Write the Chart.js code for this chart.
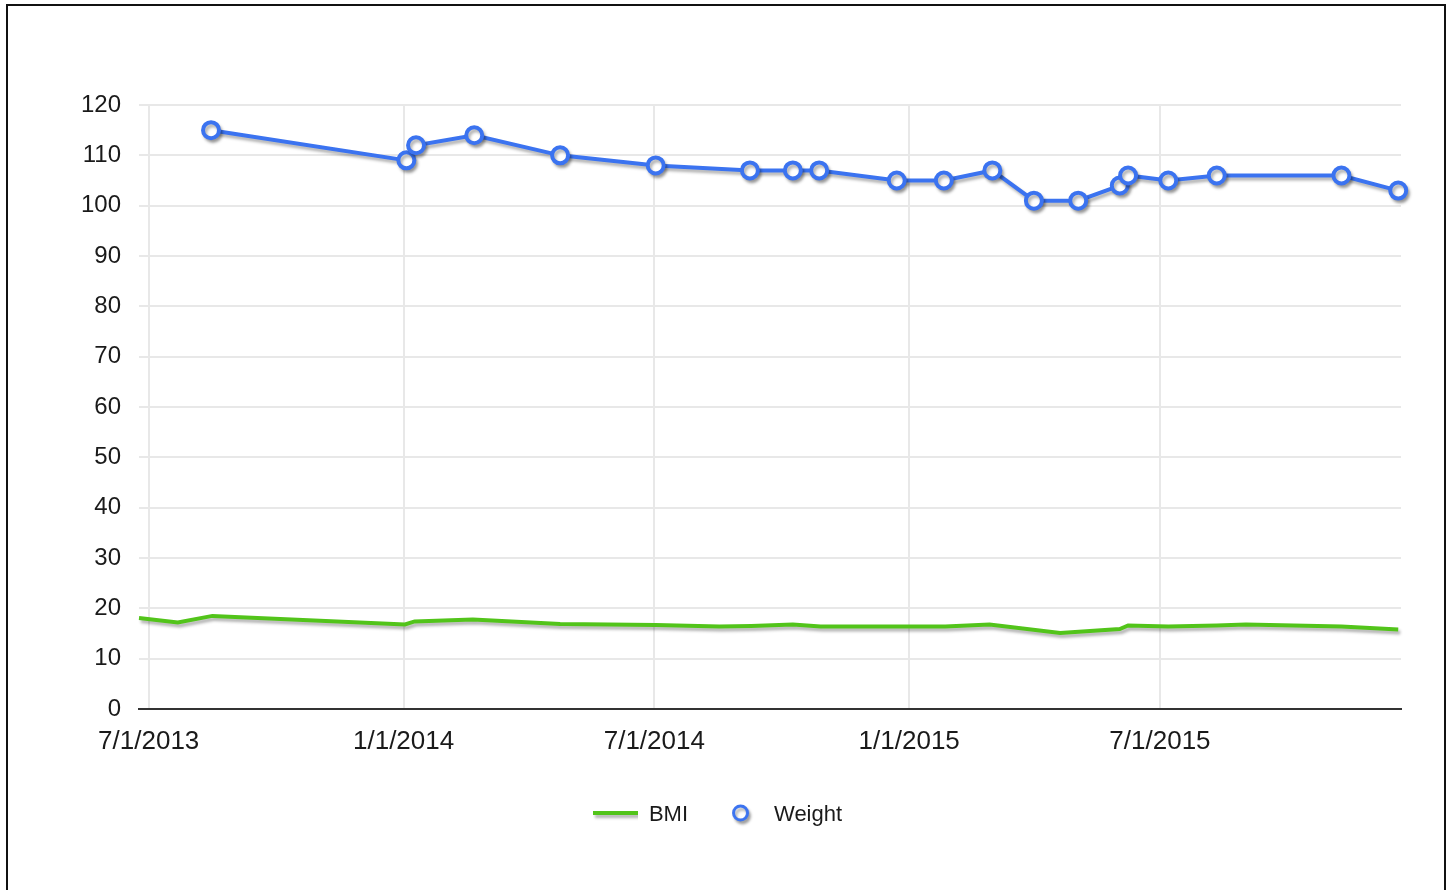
<!DOCTYPE html>
<html>
<head>
<meta charset="utf-8">
<title>BMI and Weight</title>
<script src="https://cdn.jsdelivr.net/npm/chart.js@4.4.0/dist/chart.umd.min.js"></script>
<style>
    html, body { margin: 0; padding: 0; background: #fff; overflow: hidden; }
    #frame {
        position: absolute; left: 6px; top: 4px; width: 1440px; height: 940px;
        border: 2px solid #111; box-sizing: border-box;
    }
    #chartbox { position: absolute; left: 8px; top: 7px; width: 1436px; height: 883px; }
</style>
</head>
<body>
<div id="frame"></div>
<div id="chartbox"><canvas id="chart"></canvas></div>
<script>
// Axis range and tick dates
const axisStart = '2013-06-24';
const axisEnd = '2015-12-22';
const tickDates = ['2013-07-01', '2014-01-01', '2014-07-01', '2015-01-01', '2015-07-01'];
const tickLabels = ['7/1/2013', '1/1/2014', '7/1/2014', '1/1/2015', '7/1/2015'];

// Weight measurements
const weightDates = ['2013-08-15', '2014-01-03', '2014-01-10', '2014-02-21', '2014-04-24', '2014-07-02',
    '2014-09-08', '2014-10-09', '2014-10-28', '2014-12-23', '2015-01-26', '2015-03-02', '2015-04-01',
    '2015-05-03', '2015-06-02', '2015-06-08', '2015-07-07', '2015-08-11', '2015-11-09', '2015-12-20'];
const weightValues = [115, 109, 112, 114, 110, 108, 107, 107, 107, 105, 105, 107, 101, 101, 104, 106, 105, 106, 106, 103];

// BMI measurements
const bmiDates = ['2013-06-24', '2013-07-22', '2013-08-16', '2014-01-02', '2014-01-09', '2014-02-20', '2014-04-24',
    '2014-07-02', '2014-08-17', '2014-09-09', '2014-10-09', '2014-10-29', '2014-12-23', '2015-01-27',
    '2015-02-28', '2015-04-20', '2015-06-02', '2015-06-08', '2015-07-07', '2015-08-11', '2015-09-01',
    '2015-11-09', '2015-12-20'];
const bmiValues = [18.1, 17.2, 18.5, 16.8, 17.4, 17.8, 16.9, 16.7, 16.4, 16.5, 16.8, 16.4, 16.4, 16.4,
    16.8, 15.1, 15.9, 16.6, 16.4, 16.6, 16.8, 16.4, 15.8];

const bmiColor = '#52c41a';
const weightColor = '#3b73f0';
const textColor = '#1a1a1a';

// Days since 7/1/2013, used as x value (no date adapter needed)
const origin = Date.UTC(2013, 6, 1);
function toDay(str) {
    let p = str.split('-');
    return Math.round((Date.UTC(+p[0], +p[1] - 1, +p[2]) - origin) / 86400000);
}

let tickDays = tickDates.map(toDay);
let bmiData = bmiDates.map((d, i) => ({x: toDay(d), y: bmiValues[i]}));
let weightData = weightDates.map((d, i) => ({x: toDay(d), y: weightValues[i]}));

function setShadow(ctx) {
    ctx.shadowColor = 'rgba(0, 0, 0, 0.3)';
    ctx.shadowBlur = 3;
    ctx.shadowOffsetX = 2;
    ctx.shadowOffsetY = 3;
}

// Legend symbols as small canvases (line sample and open circle)
function legendSymbol(kind) {
    let c = document.createElement('canvas');
    c.width = 45;
    c.height = 26;
    let ctx = c.getContext('2d');
    setShadow(ctx);
    if (kind === 'line') {
        ctx.strokeStyle = bmiColor;
        ctx.lineWidth = 4;
        ctx.beginPath();
        ctx.moveTo(0, 11);
        ctx.lineTo(45, 11);
        ctx.stroke();
    } else {
        ctx.fillStyle = '#fff';
        ctx.strokeStyle = weightColor;
        ctx.lineWidth = 3;
        ctx.beginPath();
        ctx.arc(22.5, 11, 7, 0, Math.PI * 2);
        ctx.fill();
        ctx.stroke();
    }
    return c;
}

// Drop shadow under the series lines
const shadowPlugin = {
    id: 'lineShadow',
    beforeDatasetDraw(chart) {
        chart.ctx.save();
        setShadow(chart.ctx);
    },
    afterDatasetDraw(chart) {
        chart.ctx.restore();
    }
};

Chart.defaults.font.family = '"Liberation Sans", Arial, sans-serif';
Chart.defaults.color = textColor;

new Chart(document.getElementById('chart'), {
    type: 'line',
    data: {
        datasets: [{
            label: 'BMI',
            data: bmiData,
            borderColor: bmiColor,
            backgroundColor: bmiColor,
            borderWidth: 4,
            pointRadius: 0,
            tension: 0,
            clip: false
        }, {
            label: 'Weight',
            data: weightData,
            borderColor: weightColor,
            backgroundColor: '#fff',
            borderWidth: 4,
            pointRadius: 8,
            pointBorderWidth: 4,
            pointBackgroundColor: '#fff',
            pointBorderColor: weightColor,
            tension: 0,
            clip: false
        }]
    },
    plugins: [shadowPlugin],
    options: {
        responsive: true,
        maintainAspectRatio: false,
        animation: false,
        layout: {
            padding: {left: 26, right: 43, top: 98, bottom: 54}
        },
        scales: {
            x: {
                type: 'linear',
                min: toDay(axisStart),
                max: toDay(axisEnd),
                afterBuildTicks: (scale) => {
                    scale.ticks = tickDays.map(v => ({value: v}));
                },
                afterFit: (scale) => {
                    scale.height = 65;
                },
                ticks: {
                    padding: 17,
                    maxRotation: 0,
                    autoSkip: false,
                    font: {size: 26},
                    callback: (v) => tickLabels[tickDays.indexOf(v)]
                },
                grid: {color: '#e8e8e8', lineWidth: 2, drawTicks: false},
                border: {display: true, color: '#333', width: 2}
            },
            y: {
                min: 0,
                max: 120,
                afterFit: (scale) => {
                    scale.width = 105;
                },
                ticks: {stepSize: 10, padding: 18, font: {size: 24}},
                grid: {color: '#e8e8e8', lineWidth: 2, drawTicks: false},
                border: {display: false}
            }
        },
        plugins: {
            tooltip: {enabled: false},
            legend: {
                position: 'bottom',
                labels: {
                    usePointStyle: true,
                    pointStyleWidth: 45,
                    boxHeight: 8,
                    padding: 30,
                    font: {size: 22},
                    generateLabels: () => [{
                        text: 'BMI', pointStyle: legendSymbol('line'), datasetIndex: 0, fontColor: textColor
                    }, {
                        text: 'Weight', pointStyle: legendSymbol('circle'), datasetIndex: 1, fontColor: textColor
                    }]
                }
            }
        }
    }
});
</script>
</body>
</html>
